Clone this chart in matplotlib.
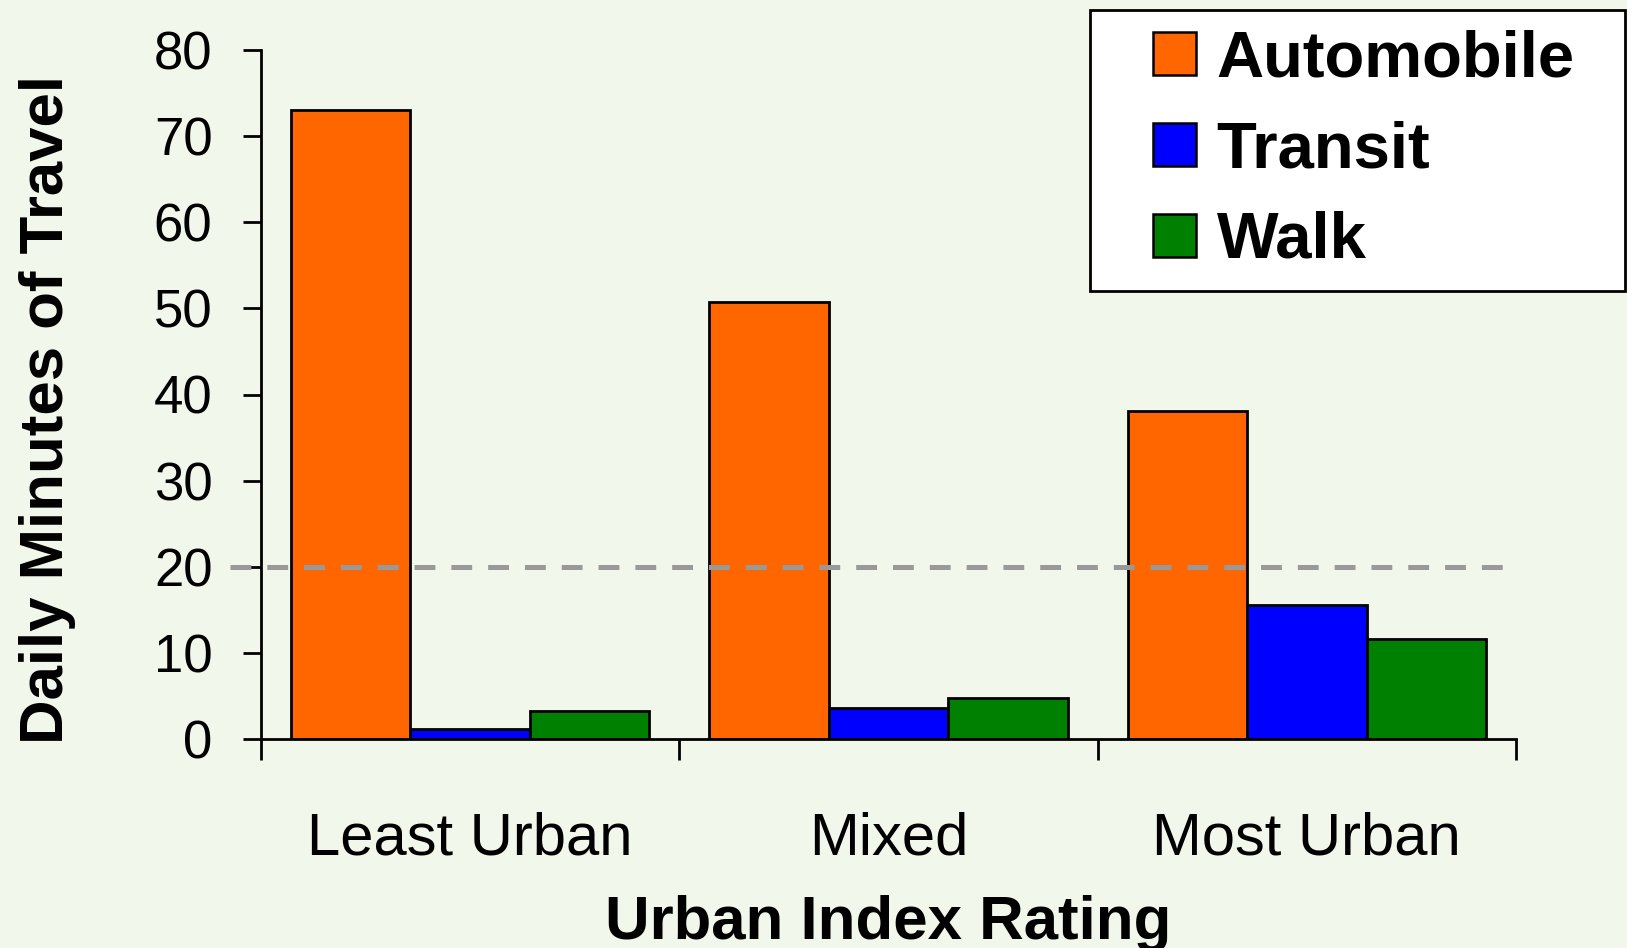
import numpy as np
import matplotlib
matplotlib.use("Agg")
import matplotlib.pyplot as plt
from matplotlib.patches import Rectangle
from matplotlib.legend_handler import HandlerPatch

# data
categories = ["Least Urban", "Mixed", "Most Urban"]
automobile = [73.0, 50.7, 38.1]
transit = [1.2, 3.6, 15.6]
walk = [3.2, 4.8, 11.6]
series_names = ["Automobile", "Transit", "Walk"]
series_colors = ["#FF6600", "#0000FF", "#008000"]
reference_line = 20
yticks = [0, 10, 20, 30, 40, 50, 60, 70, 80]

plt.rcParams['font.family'] = ['Liberation Sans', 'DejaVu Sans']
plt.rcParams['lines.scale_dashes'] = False

bg = "#F1F7EA"
W, H = 1627, 948
fig = plt.figure(figsize=(W / 100, H / 100), dpi=100, facecolor=bg)
ax = fig.add_axes([261 / W, 1 - 739 / H, (1516 - 261) / W, (739 - 50) / H])
ax.set_facecolor(bg)

x = np.arange(len(categories))
bw = 1 / 3.5
all_series = [automobile, transit, walk]
for i, (vals, name, col) in enumerate(zip(all_series, series_names, series_colors)):
    ax.bar(x + (i - 1) * bw, vals, width=bw, color=col, edgecolor="black",
           linewidth=2, zorder=2)

# dashed reference line, runs a bit past the y axis on the left
ax.plot([-0.5 - 31 / 418, 2.5 - 3 / 418], [reference_line, reference_line],
        color="#999999", linewidth=3.6, dashes=(15, 11.5), clip_on=False, zorder=3)

ax.set_xlim(-0.5, 2.5)
ax.set_ylim(0, 80)
ax.set_yticks(yticks)
ax.set_xticks(x)
ax.set_xticklabels(categories, fontsize=43)
ax.set_xticks([-0.5, 0.5, 1.5, 2.5], minor=True)
ax.tick_params(axis="x", which="major", length=0, pad=52)
ax.tick_params(axis="x", which="minor", length=15, width=2, direction="out")
ax.tick_params(axis="y", length=13, width=2, direction="out", pad=22, labelsize=38)

for s in ["top", "right"]:
    ax.spines[s].set_visible(False)
for s in ["left", "bottom"]:
    ax.spines[s].set_linewidth(2)

fig.text(888.5 / W, 1 - 939 / H, "Urban Index Rating", fontsize=44.5,
         fontweight="bold", ha="center", va="baseline")
fig.text(19 / W, 1 - 410 / H, "Daily Minutes of Travel", fontsize=44.5,
         fontweight="bold", rotation=90, ha="left", va="center")


# small square swatches sitting inside a wider handle box
def square_patch(legend, orig_handle, xdescent, ydescent, width, height, fontsize):
    size = 0.66 * fontsize
    return Rectangle((-xdescent + 0.665 * fontsize, -ydescent + (height - size) / 2),
                     size, size)


handles = [Rectangle((0, 0), 1, 1, facecolor=c, edgecolor="black", linewidth=1.8)
           for c in series_colors]
leg = ax.legend(handles, series_names,
                loc="upper left", bbox_to_anchor=(1090 / W, 0, 535 / W, 1 - 10 / H),
                bbox_transform=fig.transFigure, mode="expand", borderaxespad=0,
                prop={"size": 47, "weight": "bold"}, fancybox=False, framealpha=1,
                edgecolor="black", facecolor="white", borderpad=0.3,
                labelspacing=0.47, handlelength=1.54, handleheight=0.7,
                handletextpad=0.1,
                handler_map={Rectangle: HandlerPatch(patch_func=square_patch)})
leg.get_frame().set_linewidth(2)

fig.savefig("out.png", dpi=100, facecolor=bg)
